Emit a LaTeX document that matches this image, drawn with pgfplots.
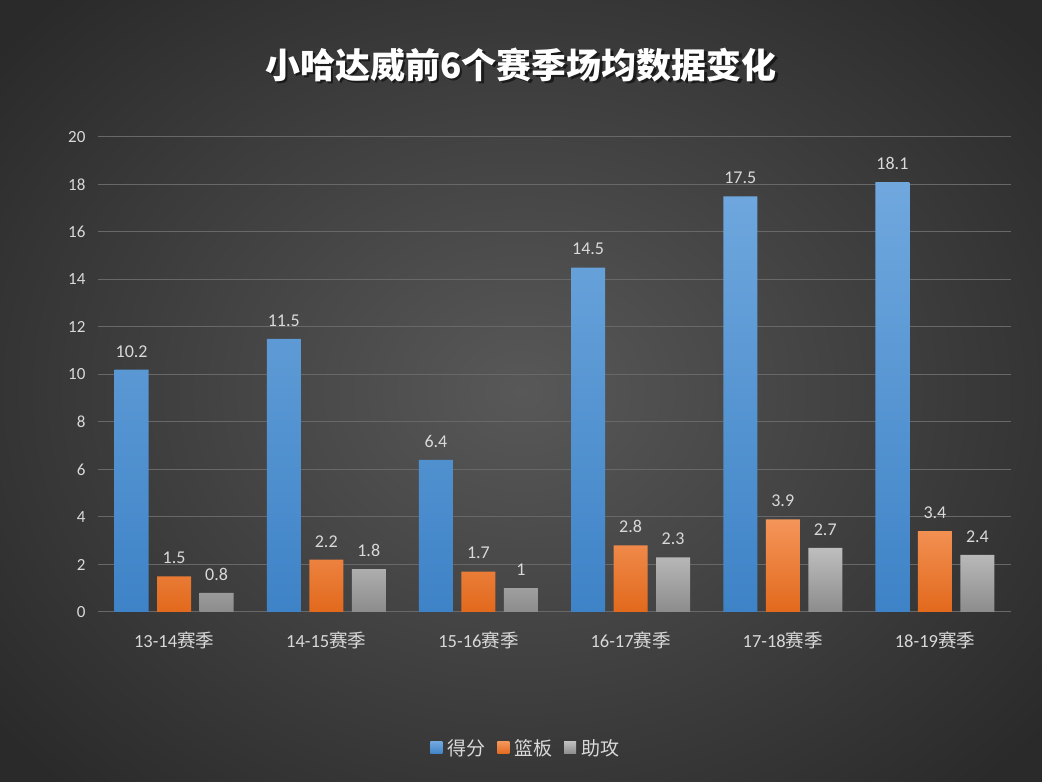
\documentclass[border=0pt]{standalone}
\usepackage{fontspec}
\setmainfont{Carlito}
\newfontfamily\cjk{Noto Sans CJK SC}
\usepackage{pgfplots}
\pgfplotsset{compat=1.18}
\definecolor{bgin}{HTML}{585858}
\definecolor{bgout}{HTML}{2A2A2A}
\definecolor{blueT}{HTML}{70A8DE}
\definecolor{blueB}{HTML}{3E83C7}
\definecolor{orangeT}{HTML}{F4955A}
\definecolor{orangeB}{HTML}{E2691C}
\definecolor{grayT}{HTML}{BEBEBE}
\definecolor{grayB}{HTML}{8C8C8C}
\definecolor{lblc}{HTML}{D9D9D9}
\definecolor{gridc}{HTML}{686868}
\definecolor{zeroc}{HTML}{BFBFBF}
\newcommand\lblfont{\fontsize{17bp}{20bp}\selectfont}
\begin{document}
\begin{tikzpicture}[x=1bp,y=1bp]
\useasboundingbox (0,0) rectangle (1042,782);
\shade[inner color=bgin, outer color=bgout] (-150,-150) rectangle (1192,932);
\node[text=black, opacity=0.55, font=\cjk\bfseries\fontsize{35bp}{42bp}\selectfont] at (523.5,714.5) {小哈达威前6个赛季场均数据变化};
\node[text=white, font=\cjk\bfseries\fontsize{35bp}{42bp}\selectfont] at (521,717) {小哈达威前6个赛季场均数据变化};
\begin{axis}[
  at={(98bp,170bp)}, anchor=south west,
  scale only axis, width=913bp, height=475bp,
  xmin=-0.5, xmax=5.5, ymin=0, ymax=20,
  ybar=8.5bp, bar width=34bp,
  ytick={2,4,...,20},
  extra y ticks={0}, extra y tick labels={0},
  extra y tick style={grid style={color=zeroc, line width=1.3bp}},
  xtick={0,...,5},
  xticklabels={{13-14{\cjk 赛季}},{14-15{\cjk 赛季}},{15-16{\cjk 赛季}},{16-17{\cjk 赛季}},{17-18{\cjk 赛季}},{18-19{\cjk 赛季}}},
  ymajorgrids,
  major grid style={color=gridc, line width=1bp},
  axis line style={draw=none},
  tick style={draw=none},
  /pgf/number format/assume math mode=true,
  ticklabel style={text=lblc, font=\lblfont},
  yticklabel style={xshift=-9bp},
  xticklabel style={yshift=-12bp, font=\fontsize{18.5bp}{22bp}\selectfont},
  legend style={at={(0.4685,-0.286)}, anchor=center, draw=none, fill=none,
    text=lblc, font=\cjk\fontsize{19bp}{22bp}\selectfont,
    legend columns=3,
    /tikz/every even column/.append style={column sep=10bp},
    /tikz/every odd column/.append style={column sep=3bp}},
  legend image code/.code={\draw[#1, draw=none] (0bp,-6bp) rectangle (12bp,6bp);},
  nodes near coords,
  every node near coord/.append style={text=lblc, font=\fontsize{18bp}{21bp}\selectfont, yshift=9bp},
]
\addplot[draw=none, top color=blueT, bottom color=blueB]
  coordinates {(0,10.2) (1,11.5) (2,6.4) (3,14.5) (4,17.5) (5,18.1)};
\addplot[draw=none, top color=orangeT, bottom color=orangeB]
  coordinates {(0,1.5) (1,2.2) (2,1.7) (3,2.8) (4,3.9) (5,3.4)};
\addplot[draw=none, top color=grayT, bottom color=grayB]
  coordinates {(0,0.8) (1,1.8) (2,1) (3,2.3) (4,2.7) (5,2.4)};
\legend{得分,篮板,助攻}
\end{axis}
\end{tikzpicture}
\end{document}
